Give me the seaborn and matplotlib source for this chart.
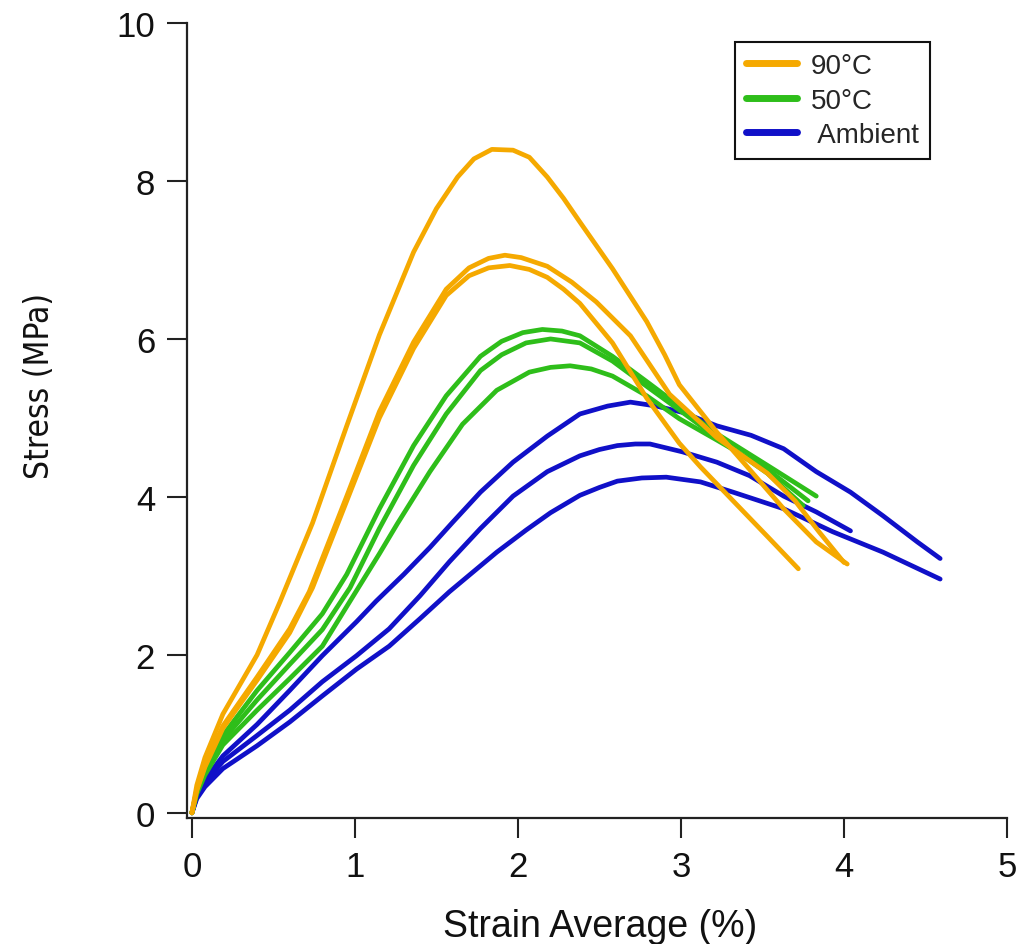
import matplotlib
matplotlib.use("Agg")
import matplotlib.pyplot as plt
from matplotlib import font_manager
from matplotlib.font_manager import FontProperties
from matplotlib.lines import Line2D
import seaborn as sns
import pandas as pd

# ---------------- data ----------------
# 90 °C specimens
strain_90_a = [0, 0.03, 0.08, 0.19, 0.40, 0.54, 0.74, 0.95, 1.15, 1.36, 1.50, 1.63, 1.73, 1.84, 1.97, 2.07, 2.18, 2.28, 2.38, 2.58, 2.79, 2.90, 2.99, 3.22, 3.42, 3.63, 3.83, 4.02]
stress_90_a = [0, 0.35, 0.70, 1.25, 2.00, 2.67, 3.67, 4.90, 6.05, 7.10, 7.65, 8.05, 8.28, 8.40, 8.39, 8.30, 8.05, 7.78, 7.48, 6.89, 6.22, 5.80, 5.42, 4.82, 4.35, 3.85, 3.43, 3.15]
strain_90_b = [0, 0.03, 0.08, 0.19, 0.40, 0.60, 0.72, 0.95, 1.15, 1.36, 1.56, 1.70, 1.82, 1.92, 2.02, 2.18, 2.33, 2.48, 2.69, 2.93, 3.22, 3.53, 3.70, 3.85, 4.00]
stress_90_b = [0, 0.30, 0.60, 1.10, 1.72, 2.33, 2.80, 4.01, 5.08, 5.96, 6.63, 6.90, 7.02, 7.06, 7.03, 6.92, 6.72, 6.47, 6.04, 5.30, 4.75, 4.30, 3.95, 3.55, 3.17]
strain_90_c = [0, 0.03, 0.08, 0.19, 0.40, 0.60, 0.74, 0.95, 1.15, 1.36, 1.56, 1.70, 1.82, 1.95, 2.07, 2.18, 2.28, 2.38, 2.58, 2.79, 2.99, 3.12, 3.32, 3.53, 3.72]
stress_90_c = [0, 0.28, 0.58, 1.07, 1.68, 2.28, 2.85, 3.95, 5.00, 5.88, 6.55, 6.80, 6.90, 6.93, 6.88, 6.78, 6.63, 6.45, 5.95, 5.25, 4.68, 4.38, 3.95, 3.50, 3.09]

# 50 °C specimens
strain_50_a = [0, 0.03, 0.08, 0.19, 0.40, 0.60, 0.80, 0.95, 1.15, 1.36, 1.56, 1.77, 1.90, 2.03, 2.15, 2.27, 2.38, 2.58, 2.79, 2.99, 3.22, 3.53, 3.83]
stress_50_a = [0, 0.28, 0.55, 0.98, 1.55, 2.03, 2.52, 3.02, 3.85, 4.65, 5.28, 5.78, 5.97, 6.08, 6.12, 6.10, 6.04, 5.78, 5.46, 5.15, 4.80, 4.40, 4.01]
strain_50_b = [0, 0.03, 0.08, 0.19, 0.40, 0.60, 0.80, 0.97, 1.15, 1.36, 1.56, 1.77, 1.90, 2.05, 2.20, 2.38, 2.58, 2.79, 2.99, 3.22, 3.53, 3.75]
stress_50_b = [0, 0.26, 0.52, 0.92, 1.43, 1.88, 2.32, 2.85, 3.60, 4.40, 5.05, 5.60, 5.80, 5.95, 6.00, 5.95, 5.72, 5.40, 5.10, 4.75, 4.30, 3.89]
strain_50_c = [0, 0.03, 0.08, 0.19, 0.40, 0.60, 0.80, 0.97, 1.15, 1.26, 1.46, 1.66, 1.87, 2.07, 2.20, 2.32, 2.45, 2.58, 2.79, 2.99, 3.22, 3.53, 3.78]
stress_50_c = [0, 0.24, 0.48, 0.86, 1.30, 1.70, 2.11, 2.68, 3.28, 3.66, 4.32, 4.92, 5.35, 5.58, 5.64, 5.66, 5.62, 5.53, 5.28, 4.99, 4.72, 4.35, 3.95]

# Ambient specimens
strain_amb_a = [0, 0.03, 0.08, 0.19, 0.40, 0.60, 0.80, 1.01, 1.13, 1.30, 1.46, 1.60, 1.77, 1.97, 2.18, 2.38, 2.55, 2.69, 2.85, 3.01, 3.22, 3.43, 3.63, 3.83, 4.04, 4.24, 4.45, 4.59]
stress_amb_a = [0, 0.22, 0.42, 0.72, 1.12, 1.55, 1.99, 2.42, 2.68, 3.02, 3.36, 3.68, 4.06, 4.44, 4.77, 5.05, 5.15, 5.20, 5.15, 5.07, 4.90, 4.78, 4.61, 4.32, 4.06, 3.76, 3.43, 3.22]
strain_amb_b = [0, 0.03, 0.08, 0.19, 0.40, 0.60, 0.80, 1.01, 1.21, 1.40, 1.58, 1.77, 1.97, 2.18, 2.38, 2.50, 2.61, 2.72, 2.81, 2.91, 3.01, 3.22, 3.42, 3.63, 3.83, 4.04]
stress_amb_b = [0, 0.20, 0.38, 0.65, 0.98, 1.30, 1.66, 1.99, 2.33, 2.75, 3.18, 3.60, 4.01, 4.32, 4.52, 4.60, 4.65, 4.67, 4.67, 4.62, 4.57, 4.44, 4.27, 4.01, 3.81, 3.57]
strain_amb_c = [0, 0.03, 0.08, 0.19, 0.40, 0.60, 0.80, 1.01, 1.21, 1.40, 1.58, 1.87, 2.05, 2.20, 2.38, 2.50, 2.61, 2.76, 2.91, 3.12, 3.32, 3.63, 3.93, 4.24, 4.59]
stress_amb_c = [0, 0.18, 0.33, 0.56, 0.85, 1.15, 1.48, 1.82, 2.11, 2.46, 2.80, 3.30, 3.58, 3.80, 4.02, 4.12, 4.20, 4.24, 4.25, 4.19, 4.06, 3.85, 3.56, 3.30, 2.96]

conditions = ["90°C", "50°C", " Ambient"]
colors = ["#F5A900", "#2EBE1A", "#1010C8"]

# ---------------- build long table ----------------
curves = [
    (" Ambient", "amb_a", strain_amb_a, stress_amb_a),
    (" Ambient", "amb_b", strain_amb_b, stress_amb_b),
    (" Ambient", "amb_c", strain_amb_c, stress_amb_c),
    ("50°C", "50_a", strain_50_a, stress_50_a),
    ("50°C", "50_b", strain_50_b, stress_50_b),
    ("50°C", "50_c", strain_50_c, stress_50_c),
    ("90°C", "90_a", strain_90_a, stress_90_a),
    ("90°C", "90_b", strain_90_b, stress_90_b),
    ("90°C", "90_c", strain_90_c, stress_90_c),
]
frames = []
for cond, spec, xs, ys in curves:
    frames.append(pd.DataFrame({"strain": xs, "stress": ys,
                                "condition": cond, "specimen": spec}))
df = pd.concat(frames, ignore_index=True)

# ---------------- style ----------------
sns.set_style("ticks")
plt.rcParams["font.family"] = ["Liberation Sans", "DejaVu Sans"]

# look for a narrow/condensed face for the y label
narrow_path = None
cands = [f.fname for f in font_manager.fontManager.ttflist]
for key in ["LiberationSansNarrow-Regular", "LiberationSansNarrow", "DejaVuSansCondensed.ttf"]:
    for p in cands:
        if key in p:
            narrow_path = p
            break
    if narrow_path:
        break

W, H = 1020, 945
fig = plt.figure(figsize=(W / 100, H / 100), dpi=100)
ax = fig.add_axes([187 / W, 1 - 819 / H, 820 / W, 795 / H])

palette = dict(zip(conditions, colors))
draw_order = [" Ambient", "50°C", "90°C"]
sns.lineplot(data=df, x="strain", y="stress", hue="condition", units="specimen",
             estimator=None, sort=False, hue_order=draw_order, palette=palette,
             linewidth=3.4, legend=False, ax=ax)
for ln in ax.get_lines():
    ln.set_solid_joinstyle("round")
    ln.set_solid_capstyle("round")

ax.set_xlim(-0.03, 5.0)
ax.set_ylim(-0.065, 10.0)
ax.set_xticks([0, 1, 2, 3, 4, 5])
ax.set_yticks([0, 2, 4, 6, 8, 10])
ax.tick_params(axis="both", direction="out", length=14.5, width=1.5,
               color="#222222", labelsize=25, pad=8.5, labelcolor="#111111")
for side in ["top", "right"]:
    ax.spines[side].set_visible(False)
for side in ["left", "bottom"]:
    ax.spines[side].set_linewidth(1.6)
    ax.spines[side].set_color("#222222")

ax.set_xlabel("Strain Average (%)", fontsize=27, color="#111111")
if narrow_path:
    fp = FontProperties(fname=narrow_path, size=24)
    ax.set_ylabel("Stress (MPa)", fontproperties=fp, color="#111111")
else:
    ax.set_ylabel("Stress (MPa)", fontsize=22, color="#111111")
ax.xaxis.set_label_coords(0.5037, -0.113)
ax.yaxis.set_label_coords(-0.16, 0.545)

handles = [Line2D([0], [0], color=c, lw=5) for c in colors]
leg = ax.legend(handles, conditions, loc="upper right", bbox_to_anchor=(0.906, 0.976),
                borderaxespad=0, fontsize=20, frameon=True, fancybox=False,
                edgecolor="#111111", framealpha=1, handlelength=1.85,
                handletextpad=0.5, labelspacing=0.3, borderpad=0.4)
leg.get_frame().set_linewidth(1.5)

fig.savefig("out.png", dpi=100)
